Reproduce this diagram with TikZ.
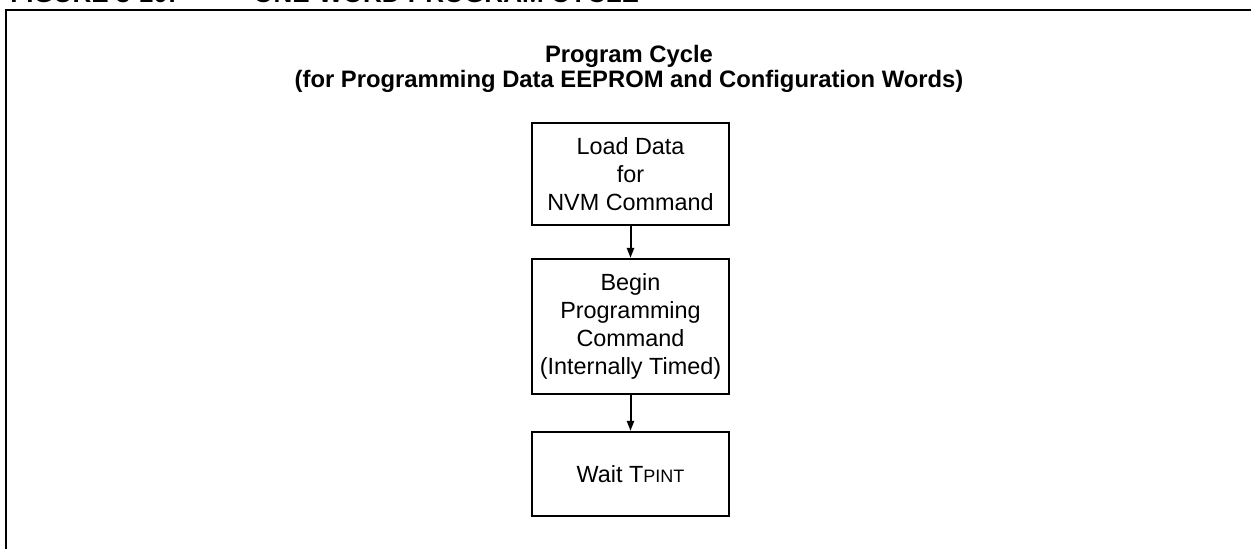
\documentclass[tikz,border=0pt]{standalone}
\usepackage{fontspec}
\setmainfont{Liberation Sans}
\usetikzlibrary{arrows.meta}
\tikzset{
  stepbox/.style={draw, line width=1.2pt, inner sep=0pt, align=center,
    font=\fontsize{11.7pt}{14pt}\selectfont},
  flow/.style={line width=1pt, -{Triangle[length=5pt,width=3.6pt]}},
  titletext/.style={font=\fontsize{11.9pt}{12.5pt}\selectfont\bfseries, inner sep=0pt, anchor=base},
  captext/.style={font=\fontsize{13pt}{14pt}\selectfont\bfseries, inner sep=0pt, anchor=base west},
}
\begin{document}
\begin{tikzpicture}[x=0.5pt, y=-0.5pt]
  \useasboundingbox (0,0) rectangle (1251,548);
  \clip (0,0) rectangle (1251,548);
  \fill[white] (0,0) rectangle (1251,548);

  % caption above the figure frame
  \node[captext] (cap1) at (10,2) {FIGURE 3-10:};
  \node[captext] (cap2) at (253,2) {ONE-WORD PROGRAM CYCLE};

  % figure frame
  \draw[line width=1.2pt] (6,10) rectangle (1270,570);

  % heading
  \node[titletext] (t1) at (629,62) {Program Cycle};
  \node[titletext] (t2) at (629,87) {(for Programming Data EEPROM and Configuration Words)};

  % flow steps
  \node[stepbox, minimum width=98.5pt, minimum height=51pt] (load) at (630.5,174)
    {Load Data\\for\\NVM Command};
  \node[stepbox, minimum width=98.5pt, minimum height=67.5pt] (begin) at (630.5,326.5)
    {Begin\\Programming\\Command\\(Internally Timed)};
  \node[stepbox, minimum width=98.5pt, minimum height=42pt] (wait) at (630.5,474)
    {Wait T{\fontsize{9pt}{10pt}\selectfont PINT}};

  \draw[flow] (load) -- (begin);
  \draw[flow] (begin) -- (wait);
\end{tikzpicture}
\end{document}
